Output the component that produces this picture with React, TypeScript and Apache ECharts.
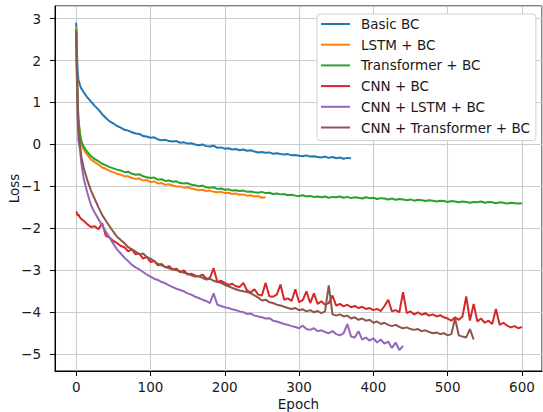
import React, { useEffect, useRef } from "react";
import * as echarts from "echarts";

// Epoch grid shared by all series (values are sampled at these epochs)
const EPOCHS = [
  0, 1, 2, 3, 5, 7, 10,
  15, 20, 25, 30, 35, 40, 45, 50, 55, 60,
  65, 70, 75, 80, 85, 90, 95, 100, 105, 110,
  115, 120, 125, 130, 135, 140, 145, 150, 155, 160,
  165, 170, 175, 180, 185, 190, 195, 200, 205, 210,
  215, 220, 225, 230, 235, 240, 245, 250, 255, 260,
  265, 270, 275, 280, 285, 290, 295, 300, 305, 310,
  315, 320, 325, 330, 335, 340, 345, 350, 355, 360,
  365, 370, 375, 380, 385, 390, 395, 400, 405, 410,
  415, 420, 425, 430, 435, 440, 445, 450, 455, 460,
  465, 470, 475, 480, 485, 490, 495, 500, 505, 510,
  515, 520, 525, 530, 535, 540, 545, 550, 555, 560,
  565, 570, 575, 580, 585, 590, 595, 600,
];

const BASIC_BC = [
  2.9, 2.2, 1.75, 1.55, 1.42, 1.33, 1.25,
  1.12, 1.02, 0.92, 0.83, 0.72, 0.63, 0.55, 0.5, 0.44, 0.4,
  0.35, 0.33, 0.29, 0.26, 0.25, 0.2, 0.19, 0.16, 0.17, 0.12,
  0.1, 0.11, 0.08, 0.07, 0.08, 0.04, 0.05, 0.02, 0.03, 0.0,
  -0.02, 0.0, -0.04, -0.05, -0.03, -0.08, -0.07, -0.1, -0.09, -0.12,
  -0.11, -0.14, -0.12, -0.15, -0.14, -0.17, -0.19, -0.18, -0.2, -0.19,
  -0.22, -0.21, -0.23, -0.24, -0.23, -0.26, -0.25, -0.27, -0.28, -0.26,
  -0.29, -0.28, -0.3, -0.31, -0.29, -0.32, -0.3, -0.33, -0.31, -0.34,
  -0.32, -0.33,
];

const LSTM_BC = [
  2.8, 1.9, 1.1, 0.6, 0.2, 0.0, -0.12,
  -0.25, -0.36, -0.42, -0.48, -0.55, -0.58, -0.63, -0.66, -0.7, -0.72,
  -0.76, -0.76, -0.8, -0.82, -0.81, -0.86, -0.85, -0.9, -0.88, -0.93,
  -0.92, -0.96, -0.95, -0.98, -1.0, -1.0, -1.03, -1.02, -1.05, -1.07,
  -1.09, -1.08, -1.11, -1.1, -1.13, -1.14, -1.13, -1.16, -1.15, -1.18,
  -1.17, -1.2, -1.19, -1.22, -1.21, -1.24, -1.23, -1.27, -1.26,
];

const TRANSFORMER_BC = [
  2.75, 1.8, 1.05, 0.62, 0.28, 0.08, -0.05,
  -0.18, -0.28, -0.35, -0.4, -0.46, -0.5, -0.54, -0.57, -0.6, -0.62,
  -0.66, -0.65, -0.7, -0.72, -0.71, -0.76, -0.78, -0.8, -0.79, -0.84,
  -0.83, -0.87, -0.86, -0.89, -0.88, -0.92, -0.93, -0.92, -0.96, -0.97,
  -1.0, -0.98, -1.02, -1.03, -1.02, -1.06, -1.05, -1.08, -1.07, -1.1,
  -1.09, -1.11, -1.1, -1.13, -1.12, -1.14, -1.15, -1.13, -1.16, -1.15,
  -1.18, -1.17, -1.19, -1.18, -1.21, -1.2, -1.22, -1.23, -1.21, -1.24,
  -1.23, -1.25, -1.24, -1.26, -1.24, -1.27, -1.25, -1.26, -1.24, -1.27,
  -1.25, -1.28, -1.26, -1.27, -1.29, -1.26, -1.28, -1.27, -1.3, -1.28,
  -1.29, -1.31, -1.29, -1.32, -1.3, -1.31, -1.33, -1.31, -1.34, -1.32,
  -1.33, -1.35, -1.33, -1.34, -1.36, -1.34, -1.35, -1.37, -1.35, -1.36,
  -1.38, -1.36, -1.37, -1.39, -1.37, -1.38, -1.36, -1.39, -1.37, -1.38,
  -1.4, -1.38, -1.39, -1.41, -1.39, -1.4, -1.41, -1.4,
];

const CNN_BC = [
  -1.6, -1.63, -1.7, -1.67, -1.74, -1.78, -1.82,
  -1.9, -1.97, -1.95, -2.02, -1.88, -2.18, -2.22, -2.3, -2.35, -2.42,
  -2.45, -2.55, -2.5, -2.62, -2.6, -2.72, -2.68, -2.8, -2.78, -2.88,
  -2.85, -2.93, -2.9, -2.98, -2.96, -3.05, -3.0, -3.1, -3.08, -3.12,
  -3.15, -3.1, -3.2, -3.18, -2.95, -3.28, -3.25, -3.3, -3.35, -3.32,
  -3.38, -3.4, -3.3, -3.48, -3.53, -3.45, -3.58, -3.6, -3.3, -3.62,
  -3.63, -3.58, -3.34, -3.7, -3.67, -3.73, -3.45, -3.76, -3.71, -3.5,
  -3.78, -3.55, -3.8, -3.74, -3.82, -3.78, -3.6, -3.84, -3.8, -3.86,
  -3.82, -3.88, -3.85, -3.9, -3.87, -3.92, -3.9, -3.95, -3.92, -3.97,
  -3.85, -3.7, -3.98, -3.95, -4.0, -3.52, -4.02, -3.98, -4.05, -4.0,
  -4.06, -4.02, -4.08, -4.05, -4.1, -4.07, -4.12, -4.15, -4.2, -4.12,
  -4.18, -4.1, -3.62, -4.2, -3.8, -4.22, -4.15, -4.25, -4.2, -4.28,
  -3.92, -4.3, -4.25, -4.32, -4.36, -4.33, -4.38, -4.35,
];

const CNN_LSTM_BC = [
  2.7, 1.5, 0.6, 0.1, -0.1, -0.45, -0.8,
  -1.15, -1.45, -1.63, -1.78, -1.93, -2.08, -2.22, -2.37, -2.5, -2.6,
  -2.7, -2.78, -2.87, -2.93, -2.98, -3.04, -3.1, -3.15, -3.2, -3.23,
  -3.28, -3.31, -3.36, -3.4, -3.44, -3.47, -3.5, -3.55, -3.58, -3.63,
  -3.66, -3.7, -3.73, -3.78, -3.55, -3.82, -3.85, -3.88, -3.9, -3.93,
  -3.95, -3.98, -4.0, -4.04, -4.03, -4.08, -4.1, -4.12, -4.15, -4.14,
  -4.2, -4.22, -4.25, -4.28, -4.3, -4.33, -4.35, -4.38, -4.32, -4.4,
  -4.42, -4.38, -4.45, -4.43, -4.47, -4.5, -4.45, -4.52, -4.55, -4.5,
  -4.28, -4.58, -4.6, -4.45, -4.65, -4.6, -4.68, -4.62, -4.72, -4.65,
  -4.75, -4.7, -4.85, -4.72, -4.9, -4.8,
];

const CNN_TRANSFORMER_BC = [
  2.7, 1.7, 0.9, 0.4, 0.0, -0.3, -0.55,
  -0.85, -1.1, -1.3, -1.5, -1.68, -1.82, -1.95, -2.08, -2.2, -2.28,
  -2.35, -2.45, -2.5, -2.55, -2.62, -2.6, -2.68, -2.72, -2.78, -2.85,
  -2.88, -2.92, -2.95, -2.98, -3.0, -3.02, -3.06, -3.08, -3.12, -3.15,
  -3.14, -3.18, -3.22, -3.2, -3.25, -3.28, -3.3, -3.35, -3.38, -3.42,
  -3.45, -3.48, -3.5, -3.52, -3.55, -3.6, -3.65, -3.72, -3.7, -3.76,
  -3.78, -3.82, -3.84, -3.87, -3.9, -3.92, -3.9, -3.95, -3.93, -3.98,
  -3.95, -4.0, -3.97, -4.02, -3.98, -3.36, -4.05, -4.08, -4.05, -4.1,
  -4.08, -4.15, -4.12, -4.18, -4.15, -4.2, -4.18, -4.25, -4.22, -4.28,
  -4.25, -4.3, -4.33, -4.3, -4.35, -4.38, -4.36, -4.4, -4.42, -4.4,
  -4.45, -4.43, -4.47, -4.5, -4.48, -4.52, -4.5, -4.55, -4.52, -4.15,
  -4.55, -4.58, -4.6, -4.4, -4.65,
];

const SERIES_NAMES = [
  "Basic BC",
  "LSTM + BC",
  "Transformer + BC",
  "CNN + BC",
  "CNN + LSTM + BC",
  "CNN + Transformer + BC",
];
const SERIES_VALUES = [BASIC_BC, LSTM_BC, TRANSFORMER_BC, CNN_BC, CNN_LSTM_BC, CNN_TRANSFORMER_BC];
const COLORS = ["#1f77b4", "#ff7f0e", "#2ca02c", "#d62728", "#9467bd", "#8c564b"];

const FONT = "DejaVu Sans";
const FONT_SIZE = 13.5;
const TEXT_COLOR = "#1a1a1a";

const minus = (s: string) => s.replace("-", "\u2212");

export default function App() {
  const ref = useRef<HTMLDivElement>(null);

  useEffect(() => {
    if (!ref.current) return;
    const chart = echarts.init(ref.current, null, { renderer: "svg" });
    chart.setOption({
      animation: false,
      backgroundColor: "#ffffff",
      textStyle: { fontFamily: FONT },
      grid: {
        left: 55,
        right: 1,
        top: 6,
        bottom: 41,
        containLabel: false,
        outerBoundsMode: "none",
        show: true,
        borderColor: "#000000",
        borderWidth: 1,
        backgroundColor: "transparent",
      },
      legend: {
        orient: "vertical",
        left: 317,
        top: 14,
        padding: [3, 6, 6, 4],
        itemWidth: 29,
        itemHeight: 14,
        itemGap: 6.7,
        icon: "path://M0,0 H29 V2 H0 Z",
        symbolKeepAspect: true,
        backgroundColor: "#ffffff",
        borderColor: "#d0d0d0",
        borderWidth: 1,
        borderRadius: 3,
        textStyle: {
          fontFamily: FONT,
          fontSize: FONT_SIZE,
          lineHeight: 14,
          color: TEXT_COLOR,
          padding: [0, 0, 0, 6],
        },
        data: SERIES_NAMES,
      },
      xAxis: {
        type: "value",
        min: -28.5,
        max: 627,
        splitNumber: 6,
        name: "Epoch",
        nameLocation: "middle",
        nameGap: 26,
        nameMoveOverlap: false,
        nameTextStyle: { fontFamily: FONT, fontSize: FONT_SIZE, color: TEXT_COLOR },
        axisLine: { show: true, onZero: false, lineStyle: { color: "#000", width: 1 } },
        axisTick: { show: true, inside: false, length: 5, lineStyle: { color: "#000", width: 1 } },
        axisLabel: {
          fontFamily: FONT,
          fontSize: FONT_SIZE,
          color: TEXT_COLOR,
          margin: 9,
          showMinLabel: false,
          showMaxLabel: false,
          formatter: (v: number) => (Math.abs(v % 100) < 1e-6 ? minus(String(v)) : ""),
        },
        splitLine: { show: true, lineStyle: { color: "#cccccc", width: 1.1 } },
      },
      yAxis: {
        type: "value",
        min: -5.4,
        max: 3.3,
        splitNumber: 8,
        name: "Loss",
        nameLocation: "middle",
        nameGap: 34,
        nameMoveOverlap: false,
        nameTextStyle: { fontFamily: FONT, fontSize: FONT_SIZE, color: TEXT_COLOR },
        axisLine: { show: true, onZero: false, lineStyle: { color: "#000", width: 1 } },
        axisTick: { show: true, inside: false, length: 5, lineStyle: { color: "#000", width: 1 } },
        axisLabel: {
          fontFamily: FONT,
          fontSize: FONT_SIZE,
          color: TEXT_COLOR,
          margin: 14,
          showMinLabel: false,
          showMaxLabel: false,
          formatter: (v: number) => (Math.abs(v - Math.round(v)) < 1e-6 ? minus(String(Math.round(v))) : ""),
        },
        splitLine: { show: true, lineStyle: { color: "#cccccc", width: 1.1 } },
      },
      series: SERIES_NAMES.map((name, i) => ({
        name,
        type: "line",
        symbol: "none",
        showSymbol: false,
        color: COLORS[i],
        lineStyle: { color: COLORS[i], width: 2 },
        data: SERIES_VALUES[i].map((v, j) => [EPOCHS[j], v]),
      })),
    });
    return () => chart.dispose();
  }, []);

  return (
    <div
      ref={ref}
      style={{ position: "absolute", left: 0, top: 0, width: 543, height: 412 }}
    />
  );
}
